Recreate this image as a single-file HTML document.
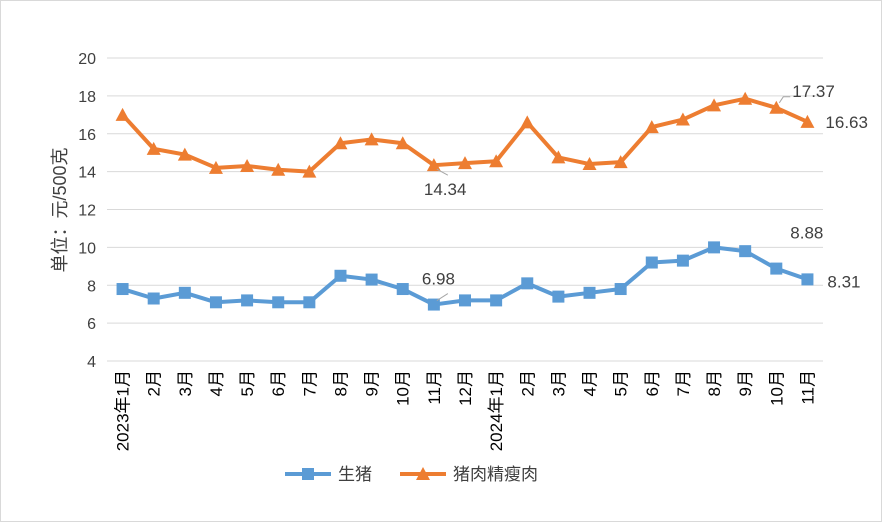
<!DOCTYPE html>
<html><head><meta charset="utf-8"><style>
html,body{margin:0;padding:0;background:#fff}
svg{display:block;font-family:"Liberation Sans","Noto Sans CJK SC",sans-serif}
</style></head><body>
<svg width="882" height="522" viewBox="0 0 882 522">
<rect x="0.5" y="0.5" width="881" height="521" fill="#fff" stroke="#d9d9d9"/>
<g id="grid"></g><g id="yt"></g><g id="xt"></g><g id="series"></g><g id="labels"></g>
<text transform="translate(66,210) rotate(-90)" text-anchor="middle" font-size="18" fill="#404040">单位：元/500克</text>
<g>
<g>
<line x1="285" y1="474" x2="331" y2="474" stroke="#5b9bd5" stroke-width="4"/>
<rect x="302" y="468" width="12" height="12" fill="#5b9bd5"/>
<text x="338" y="480" font-size="17" fill="#404040">生猪</text></g>
<g>
<line x1="400" y1="474" x2="446" y2="474" stroke="#ed7d31" stroke-width="4"/>
<polygon points="423,467 430,480 416,480" fill="#ed7d31"/>
<text x="453" y="480" font-size="17" fill="#404040">猪肉精瘦肉</text></g>
</g>
</svg>
<script>
const categories=["2023年1月","2月","3月","4月","5月","6月","7月","8月","9月","10月","11月","12月","2024年1月","2月","3月","4月","5月","6月","7月","8月","9月","10月","11月"];
const pigValues=[7.8,7.3,7.6,7.1,7.2,7.1,7.1,8.5,8.3,7.8,6.98,7.2,7.2,8.1,7.4,7.6,7.8,9.2,9.3,10.0,9.8,8.88,8.31];
const porkValues=[17.0,15.2,14.9,14.2,14.3,14.1,14.0,15.5,15.7,15.5,14.34,14.45,14.55,16.6,14.75,14.4,14.5,16.35,16.75,17.5,17.85,17.37,16.63];
const yTicks=[4,6,8,10,12,14,16,18,20];
const NS="http://www.w3.org/2000/svg";
const X0=107,X1=823,Y0=361,Y1=58,YMIN=4,YMAX=20;
const step=(X1-X0)/categories.length;
function x(i){return X0+step*(i+0.5);}
function y(v){return Y0-(v-YMIN)/(YMAX-YMIN)*(Y0-Y1);}
function mk(tag,attrs,parent){const e=document.createElementNS(NS,tag);for(const k in attrs)e.setAttribute(k,attrs[k]);document.getElementById(parent).appendChild(e);return e;}
yTicks.forEach(t=>{
 const l=mk("line",{x1:X0,x2:X1,y1:y(t),y2:y(t),stroke:"#d9d9d9","stroke-width":1},"grid");
 
 
 const tx=mk("text",{x:96,y:y(t)+6,"text-anchor":"end","font-size":16,fill:"#404040"},"yt");
 tx.textContent=t;
 
 
});
categories.forEach((c,i)=>{
 const tx=mk("text",{transform:`translate(${x(i)+6},370) rotate(-90)`,"text-anchor":"end","font-size":17,fill:"#000"},"xt");
 tx.textContent=c;
 
 
});
function series(vals,color,name,marker){
 const p=mk("polyline",{points:vals.map((v,i)=>x(i)+","+y(v)).join(" "),fill:"none",stroke:color,"stroke-width":4,"stroke-linejoin":"round"},"series");
 
 
 vals.forEach((v,i)=>{
  let m;
  if(marker==="sq")m=mk("rect",{x:x(i)-6,y:y(v)-6,width:12,height:12,fill:color},"series");
  else m=mk("polygon",{points:`${x(i)},${y(v)-7} ${x(i)+7},${y(v)+6} ${x(i)-7},${y(v)+6}`,fill:color},"series");
  
  
 });
}
series(porkValues,"#ed7d31","lean-pork","tri");
series(pigValues,"#5b9bd5","live-pig","sq");
function label(i,vals,dx,dy,leader){
 const v=vals[i];
 if(leader){const l=mk("polyline",{points:leader(x(i),y(v)),fill:"none",stroke:"#a6a6a6","stroke-width":1},"labels");
  
  }
 const t=mk("text",{x:x(i)+dx,y:y(v)+dy,"font-size":17,fill:"#404040"},"labels");
 t.textContent=v.toFixed(2);
 
 
}
label(10,pigValues,-12,-20,(a,b)=>`${a+3},${b-4} ${a+14},${b-11}`);
label(10,porkValues,-10,30,(a,b)=>`${a+3},${b+4} ${a+14},${b+10}`);
label(21,pigValues,14,-30);
label(22,pigValues,20,8);
label(21,porkValues,16,-11,(a,b)=>`${a+3},${b-5} ${a+7},${b-11} ${a+14},${b-11}`);
label(22,porkValues,18,6);
</script>
</body></html>
